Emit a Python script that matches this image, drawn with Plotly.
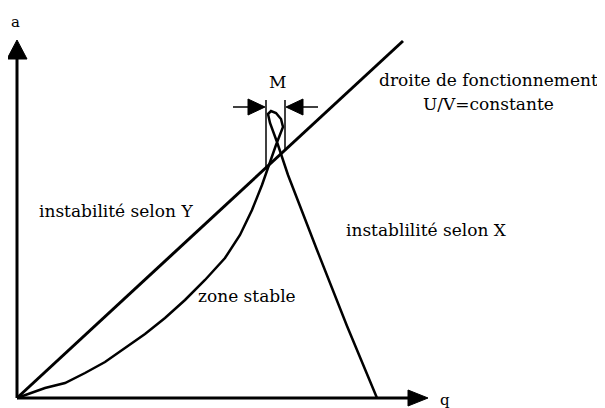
import plotly.graph_objects as go

# chart coordinates: q along the horizontal axis, a along the vertical axis
line_q = [0, 386]
line_a = [0, 357]

curve_q = [0, 13, 28, 48, 68, 88, 108, 128, 148, 168, 188, 208, 223, 235, 245, 251, 259, 266,
           264, 259, 254, 251, 253, 260, 271, 300, 330, 360]
curve_a = [0, 5, 10, 15, 25, 36, 50, 64, 80, 98, 118, 140, 163, 188, 213, 231, 253, 271,
           279, 285, 287, 284, 275, 256, 223, 148, 72, 0]

bracket_q = [249, 268]
bracket_top = 298
bracket_bottom = [231, 248]
arrow_a = 291

labels = ["droite de fonctionnement", "U/V=constante", "instabilité selon Y",
          "instablilité selon X", "zone stable", "M"]
label_q = [471, 471, 99, 409, 230, 260]
label_a = [318, 294, 187, 168, 102, 316]

black = "#000000"
fig = go.Figure()

def seg(xs, ys, w=3):
    fig.add_trace(go.Scatter(x=xs, y=ys, mode="lines", line=dict(color=black, width=w),
                             hoverinfo="skip", showlegend=False))

def tri(xs, ys):
    fig.add_trace(go.Scatter(x=xs, y=ys, mode="lines", fill="toself", fillcolor=black,
                             line=dict(color=black, width=1), hoverinfo="skip", showlegend=False))

# axes with arrowheads
seg([0, 0], [0, 340])
tri([-10, 10, 0, -10], [339, 339, 358, 339])
seg([0, 392], [0, 0])
tri([391, 391, 411, 391], [-8, 8, 0, -8])

# operating line and stability boundary
seg(line_q, line_a)
seg(curve_q, curve_a, 2.5)

# M bracket
seg([bracket_q[0], bracket_q[0]], [bracket_top, bracket_bottom[0]], 1.5)
seg([bracket_q[1], bracket_q[1]], [bracket_top, bracket_bottom[1]], 1.5)
seg([bracket_q[0] - 33, bracket_q[0] - 2], [arrow_a, arrow_a], 1.5)
tri([bracket_q[0] - 18, bracket_q[0] - 18, bracket_q[0] - 1, bracket_q[0] - 18],
    [arrow_a - 8, arrow_a + 8, arrow_a, arrow_a - 8])
seg([bracket_q[1] + 2, bracket_q[1] + 33], [arrow_a, arrow_a], 1.5)
tri([bracket_q[1] + 18, bracket_q[1] + 18, bracket_q[1] + 1, bracket_q[1] + 18],
    [arrow_a - 8, arrow_a + 8, arrow_a, arrow_a - 8])

for t, x, y in zip(labels, label_q, label_a):
    fig.add_annotation(x=x, y=y, text=t, showarrow=False,
                       font=dict(family="DejaVu Serif", size=17, color=black))

fig.add_annotation(x=-2, y=376, text="a", showarrow=False,
                   font=dict(family="DejaVu Serif", size=15, color=black))
fig.add_annotation(x=428, y=-2, text="q", showarrow=False,
                   font=dict(family="DejaVu Serif", size=15, color=black))

# the page adds an 8px body margin, so ranges are shifted to compensate
fig.update_xaxes(range=[-9, 596], visible=False)
fig.update_yaxes(range=[-18, 390], visible=False)
fig.update_layout(width=605, height=408, margin=dict(l=0, r=0, t=0, b=0),
                  plot_bgcolor="white", paper_bgcolor="white")

fig.write_html("out.html")
